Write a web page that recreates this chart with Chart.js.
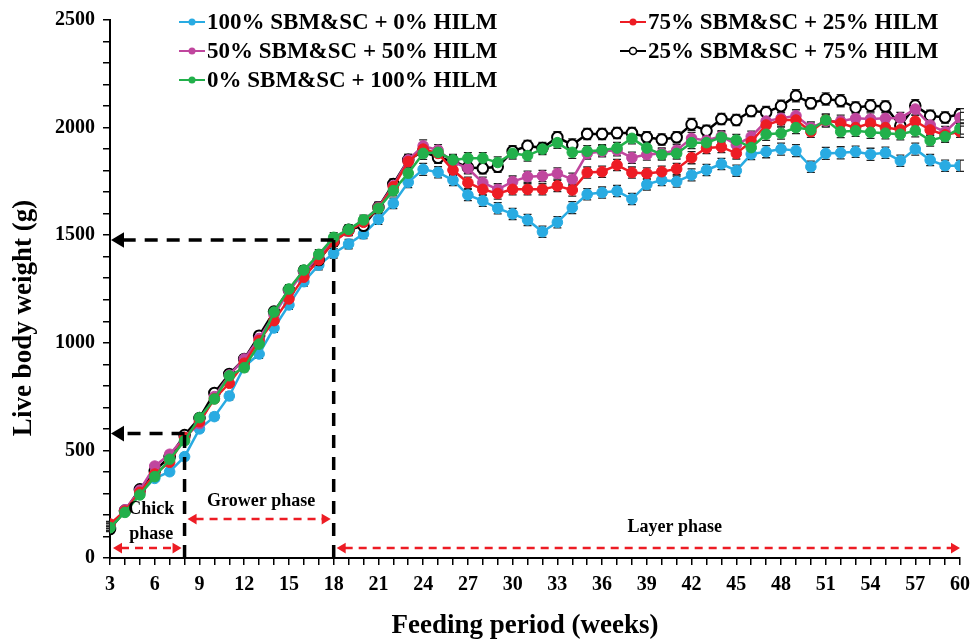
<!DOCTYPE html>
<html>
<head>
<meta charset="utf-8">
<script src="https://cdn.jsdelivr.net/npm/chart.js@4/dist/chart.umd.min.js"></script>
<style>
  html, body { margin: 0; padding: 0; background: #fff; }
  #wrap { width: 978px; height: 644px; position: relative; }
</style>
</head>
<body>
<div id="wrap"><canvas id="c" width="978" height="644"></canvas></div>
<script>
// ---------------- DATA ----------------
const weeks = [3,4,5,6,7,8,9,10,11,12,13,14,15,16,17,18,19,20,21,22,23,24,25,26,27,28,29,30,31,32,33,34,35,36,37,38,39,40,41,42,43,44,45,46,47,48,49,50,51,52,53,54,55,56,57,58,59,60];

const seriesNames = [
  "100% SBM&SC + 0% HILM",
  "75% SBM&SC + 25% HILM",
  "50% SBM&SC + 50% HILM",
  "25% SBM&SC + 75% HILM",
  "0% SBM&SC + 100% HILM"
];

const sbm100 = [150,218,300,370,401,471,600,657,753,889,948,1069,1176,1284,1361,1416,1459,1506,1574,1648,1746,1806,1792,1756,1687,1660,1625,1599,1571,1516,1560,1628,1690,1698,1705,1668,1736,1756,1749,1780,1803,1831,1800,1877,1888,1900,1893,1818,1880,1883,1888,1876,1883,1846,1900,1849,1823,1823];
const sbm75  = [158,218,305,390,445,560,633,740,812,905,1010,1103,1204,1305,1385,1470,1520,1560,1625,1725,1842,1900,1880,1803,1744,1713,1694,1713,1713,1713,1729,1710,1791,1795,1826,1791,1787,1795,1808,1860,1905,1910,1880,1935,2012,2035,2035,1981,2035,2020,2000,2020,2000,1990,2030,1989,1966,1981];
const sbm50  = [150,224,315,427,482,560,625,750,850,925,1020,1130,1240,1330,1400,1475,1520,1565,1630,1730,1850,1915,1895,1840,1811,1744,1713,1749,1772,1775,1787,1760,1880,1890,1895,1860,1875,1880,1895,1950,1940,1960,1920,1958,2030,2043,2055,2000,2030,2030,2043,2040,2043,2045,2086,2012,1980,2045];
const sbm25  = [135,220,319,406,470,571,650,767,855,925,1033,1145,1245,1335,1385,1470,1525,1544,1630,1738,1850,1890,1860,1845,1815,1811,1818,1890,1915,1905,1955,1920,1970,1970,1975,1975,1955,1945,1955,2015,1985,2040,2035,2077,2071,2100,2148,2113,2133,2125,2093,2102,2098,2009,2102,2055,2047,2062];
const sbm0   = [141,212,293,378,459,545,652,739,847,884,994,1143,1250,1338,1411,1490,1527,1571,1625,1707,1788,1880,1885,1850,1858,1858,1838,1880,1870,1900,1930,1885,1890,1895,1905,1950,1905,1875,1880,1930,1930,1955,1942,1907,1969,1974,2000,1990,2035,1981,1985,1978,1974,1969,1985,1940,1958,1996];

// standard error (g), shared by week
const stdErr = [12,12,14,14,15,15,16,16,18,18,20,20,20,20,22,22,22,22,24,24,25,28,26,26,26,26,26,26,26,26,26,28,26,26,26,26,26,26,26,28,26,26,26,26,28,28,28,26,28,28,26,28,26,26,28,26,26,26];

const xTickLabels = [3,6,9,12,15,18,21,24,27,30,33,36,39,42,45,48,51,54,57,60];
const yTickLabels = [0,500,1000,1500,2000,2500];

// annotation values (weeks / grams)
const chickEnd = 8, growerEnd = 18, lastWeek = 60, firstWeek = 3;
const chickWeight = 578, growerWeight = 1478;

// ---------------- STYLES ----------------
const colors = ["#29ABE2", "#ED1C24", "#C0469E", "#000000", "#22B04B"];
const serif = '"Liberation Serif", "Times New Roman", serif';

const valueSets = [sbm100, sbm75, sbm50, sbm25, sbm0];
function toPts(arr){ return weeks.map((w,i)=>({x:w, y:arr[i]})); }

// draw order: lower order = drawn on top
const drawOrder = [4, 1, 2, 3, 0];

const datasets = valueSets.map((arr, i) => ({
  label: seriesNames[i],
  data: toPts(arr),
  borderColor: colors[i],
  backgroundColor: i === 3 ? "#ffffff" : colors[i],
  pointBackgroundColor: i === 3 ? "#ffffff" : colors[i],
  pointBorderColor: colors[i],
  pointBorderWidth: i === 3 ? 2 : 1,
  pointRadius: 5.3,
  borderWidth: 2.5,
  tension: 0,
  order: drawOrder[i]
}));

const errorBarPlugin = {
  id: 'errbars',
  beforeDatasetsDraw(chart){
    const ctx = chart.ctx, ys = chart.scales.y, xs = chart.scales.x;
    ctx.save();
    ctx.strokeStyle = '#222';
    ctx.lineWidth = 1.3;
    valueSets.forEach(arr => {
      arr.forEach((v, i) => {
        const px = xs.getPixelForValue(weeks[i]);
        const top = ys.getPixelForValue(v + stdErr[i]);
        const bot = ys.getPixelForValue(v - stdErr[i]);
        ctx.beginPath();
        ctx.moveTo(px, top); ctx.lineTo(px, bot);
        ctx.moveTo(px-4, top); ctx.lineTo(px+4, top);
        ctx.moveTo(px-4, bot); ctx.lineTo(px+4, bot);
        ctx.stroke();
      });
    });
    ctx.restore();
  }
};

function arrowHead(ctx, x, y, dir, size, color){
  ctx.save();
  ctx.fillStyle = color;
  ctx.beginPath();
  ctx.moveTo(x, y);
  ctx.lineTo(x - dir*size, y - size*0.6);
  ctx.lineTo(x - dir*size, y + size*0.6);
  ctx.closePath();
  ctx.fill();
  ctx.restore();
}

const annotPlugin = {
  id: 'annot',
  afterDatasetsDraw(chart){
    const ctx = chart.ctx, ys = chart.scales.y, xs = chart.scales.x;
    const x3 = xs.getPixelForValue(firstWeek);
    const x8 = xs.getPixelForValue(chickEnd);
    const x18 = xs.getPixelForValue(growerEnd);
    const x60 = xs.getPixelForValue(lastWeek);
    const y0 = ys.getPixelForValue(0);
    const yc = ys.getPixelForValue(chickWeight);
    const yg = ys.getPixelForValue(growerWeight);
    ctx.save();
    // black dashed guides
    ctx.strokeStyle = '#000';
    ctx.lineWidth = 3.5;
    ctx.setLineDash([13, 9]);
    ctx.beginPath();
    ctx.moveTo(x8, y0); ctx.lineTo(x8, yc);
    ctx.moveTo(x8, yc); ctx.lineTo(x3 + 12, yc);
    ctx.moveTo(x18, y0); ctx.lineTo(x18, yg);
    ctx.moveTo(x18, yg); ctx.lineTo(x3 + 12, yg);
    ctx.stroke();
    ctx.setLineDash([]);
    arrowHead(ctx, x3 + 1, yc, -1, 13, '#000');
    arrowHead(ctx, x3 + 1, yg, -1, 13, '#000');

    // red phase arrows
    const yLow = ys.getPixelForValue(46);
    const yGrow = ys.getPixelForValue(181);
    ctx.strokeStyle = '#ED1C24';
    ctx.lineWidth = 2.5;
    ctx.setLineDash([8, 6]);
    const segs = [[x3+3, x8-3, yLow],[x8+3, x18-3, yGrow],[x18+3, x60, yLow]];
    segs.forEach(s => {
      ctx.beginPath();
      ctx.moveTo(s[0]+8, s[2]); ctx.lineTo(s[1]-8, s[2]);
      ctx.stroke();
    });
    ctx.setLineDash([]);
    segs.forEach(s => {
      arrowHead(ctx, s[0], s[2], -1, 9, '#ED1C24');
      arrowHead(ctx, s[1], s[2], 1, 9, '#ED1C24');
    });

    // phase labels
    ctx.fillStyle = '#000';
    ctx.font = 'bold 18px ' + serif;
    ctx.textAlign = 'center';
    ctx.textBaseline = 'middle';
    ctx.fillText('Chick', (x3+x8)/2 + 4, ys.getPixelForValue(225));
    ctx.fillText('phase', (x3+x8)/2 + 4, ys.getPixelForValue(108));
    ctx.fillText('Grower phase', (x8+x18)/2 + 2, ys.getPixelForValue(265));
    ctx.fillText('Layer phase', (x18+x60)/2 + 28, ys.getPixelForValue(144));
    ctx.restore();
  },
  afterDraw(chart){
    const ctx = chart.ctx;
    ctx.save();
    // axis titles
    ctx.fillStyle = '#000';
    ctx.font = 'bold 27px ' + serif;
    ctx.textAlign = 'center';
    ctx.textBaseline = 'middle';
    ctx.fillText('Feeding period (weeks)', 525, 626);
    ctx.translate(24, 318);
    ctx.rotate(-Math.PI/2);
    ctx.fillText('Live body weight (g)', 0, 0);
    ctx.restore();

    // legend
    const items = [
      {i:0, x:179, y:22}, {i:2, x:179, y:51}, {i:4, x:179, y:80},
      {i:1, x:620, y:22}, {i:3, x:620, y:51}
    ];
    ctx.save();
    ctx.font = 'bold 23px ' + serif;
    ctx.textAlign = 'left';
    ctx.textBaseline = 'middle';
    items.forEach(it => {
      const c = colors[it.i];
      ctx.strokeStyle = c;
      ctx.lineWidth = 2;
      ctx.beginPath();
      ctx.moveTo(it.x, it.y); ctx.lineTo(it.x + 26, it.y);
      ctx.stroke();
      ctx.beginPath();
      ctx.arc(it.x + 13, it.y, 3.5, 0, Math.PI*2);
      ctx.fillStyle = it.i === 3 ? '#fff' : c;
      ctx.fill();
      if (it.i === 3) { ctx.lineWidth = 1.5; ctx.stroke(); }
      ctx.fillStyle = '#000';
      ctx.fillText(seriesNames[it.i], it.x + 28, it.y + 1);
    });
    ctx.restore();
  }
};

new Chart(document.getElementById('c'), {
  type: 'line',
  data: { datasets },
  options: {
    responsive: false,
    animation: false,
    devicePixelRatio: 1,
    layout: { padding: { top: 20, right: 13, left: 0, bottom: 0 } },
    plugins: { legend: { display: false }, tooltip: { enabled: false } },
    scales: {
      x: {
        type: 'linear',
        min: firstWeek, max: lastWeek,
        afterFit(s){ s.height = 86; },
        ticks: {
          stepSize: 1, autoSkip: false, maxRotation: 0, padding: 8,
          color: '#000',
          font: { family: serif, size: 20, weight: 'bold' },
          callback: v => xTickLabels.includes(v) ? String(v) : ''
        },
        grid: { drawOnChartArea: false, drawTicks: true, tickLength: 7, color: '#000', lineWidth: 1.5 },
        border: { color: '#000', width: 2 }
      },
      y: {
        min: 0, max: 2500,
        afterFit(s){ s.width = 110; },
        ticks: {
          stepSize: 100, autoSkip: false, padding: 8,
          color: '#000',
          font: { family: serif, size: 20, weight: 'bold' },
          callback: v => yTickLabels.includes(v) ? String(v) : ''
        },
        grid: { drawOnChartArea: false, drawTicks: true, tickLength: 7, color: '#000', lineWidth: 1.5 },
        border: { color: '#000', width: 2 }
      }
    }
  },
  plugins: [errorBarPlugin, annotPlugin]
});
</script>
</body>
</html>
